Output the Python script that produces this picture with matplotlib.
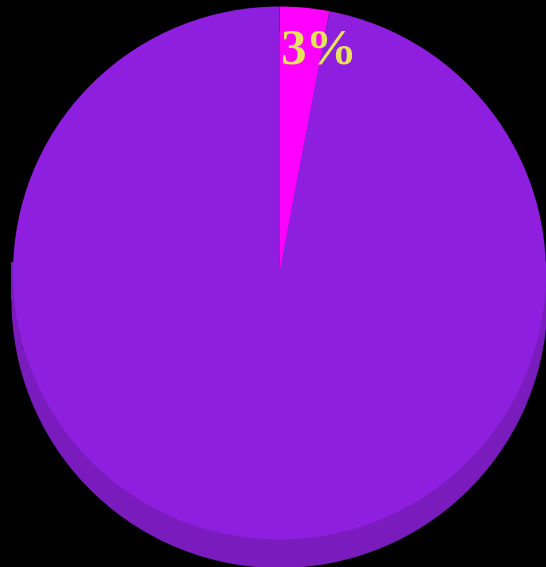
import matplotlib.pyplot as plt
from matplotlib.patches import Rectangle
import numpy as np

labels = ['Part', 'Rest']
values = [3, 97]
colors = ['#ff00ff', '#8e1fdf']
depth_color = '#7a1bbe'

W, H = 546, 567
cx, cy, r = 279.5, H - 273, 266.5
depth = 27

fig = plt.figure(figsize=(W / 100, H / 100), dpi=100, facecolor='black')
ax = fig.add_axes([0, 0, 1, 1])
ax.set_facecolor('black')

# side of the "3d" disc
ax.pie(values, center=(cx, cy - depth), radius=r + 1.5, startangle=90,
       counterclock=False, colors=[depth_color] * len(values),
       wedgeprops={'linewidth': 0})
ax.add_patch(Rectangle((cx - r - 2.5, cy - depth), 2 * r + 5, depth + 11,
                       color=depth_color, lw=0))

# top face
wedges, _ = ax.pie(values, center=(cx, cy), radius=r, startangle=90,
                   counterclock=False, colors=colors,
                   wedgeprops={'linewidth': 0})

total = sum(values)
ang = 90 - 360 * values[0] / total * 0.95
lx = cx + 0.845 * r * np.cos(np.radians(ang))
ly = cy + 0.845 * r * np.sin(np.radians(ang))
ax.text(lx, ly, f'{values[0]}%', color='#e6e35a', fontsize=37,
        fontweight='bold', family='Liberation Serif', ha='center', va='center')

ax.set_xlim(0, W)
ax.set_ylim(0, H)
ax.set_aspect('equal')
ax.axis('off')

fig.savefig('out.png', dpi=100, facecolor='black')
